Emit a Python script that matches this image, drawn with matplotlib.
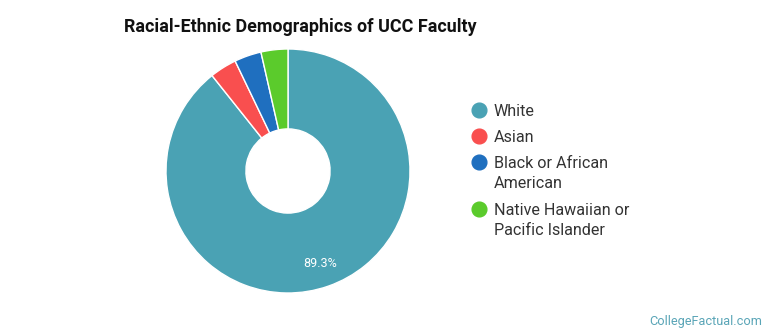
import matplotlib
matplotlib.use('Agg')
import matplotlib.pyplot as plt
from matplotlib.lines import Line2D

plt.rcParams['font.family'] = ['Roboto', 'DejaVu Sans']

categories = ['White', 'Asian', 'Black or African\nAmerican', 'Native Hawaiian or\nPacific Islander']
shares = [89.3, 3.57, 3.57, 3.56]
colors = ['#4aa2b4', '#f94f4f', '#1f6fbf', '#5bcb2c']

W, H = 770, 335
fig = plt.figure(figsize=(W / 100, H / 100), dpi=100)

# pie centre (288, 171) px from top-left, radius ~122 px
cx, cy, r = 288, 335 - 171, 122
ax = fig.add_axes([(cx - r) / W, (cy - r) / H, 2 * r / W, 2 * r / H])
wedges, texts, autotexts = ax.pie(
    shares, colors=colors, startangle=90, counterclock=False,
    radius=1.0, wedgeprops=dict(width=0.655, edgecolor='white', linewidth=1.0),
    autopct=lambda p: f'{p:.1f}%' if p > 10 else '', pctdistance=0.8,
    textprops=dict(color='white', fontsize=9))
ax.set_xlim(-1, 1)
ax.set_ylim(-1, 1)
ax.set_aspect('equal')
ax.axis('off')

fig.text(124 / W, 1 - 27 / H, 'Racial-Ethnic Demographics of UCC Faculty',
         fontsize=12.9, fontweight='bold', color='#111111', va='center', ha='left')

# legend drawn by hand to match the row spacing
row_y = [110, 136, 162, 209]
for y, c, lab in zip(row_y, colors, categories):
    fig.add_artist(Line2D([479 / W], [1 - y / H], marker='o', linestyle='',
                          markersize=10.6, markerfacecolor=c, markeredgecolor=c,
                          transform=fig.transFigure))
    fig.text(494 / W, 1 - (y - 6) / H, lab, fontsize=11.6, color='#333333',
             ha='left', va='top', linespacing=1.45)

fig.text(762 / W, 1 - 321 / H, 'CollegeFactual.com', fontsize=9.2,
         color='#5aa5b7', ha='right', va='center')

fig.savefig('out.png', dpi=100)
